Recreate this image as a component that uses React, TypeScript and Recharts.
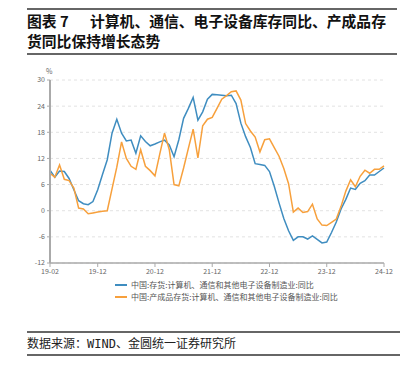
import { LineChart, Line, XAxis, YAxis, CartesianGrid } from "recharts";

// month labels 19-02 .. 24-12
const months: string[] = [];
for (let y = 19; y <= 24; y++) {
  for (let m = 1; m <= 12; m++) {
    if (y === 19 && m < 2) continue;
    months.push(`${y}-${String(m).padStart(2, "0")}`);
  }
}

const xTickLabels = ["19-02", "19-12", "20-12", "21-12", "22-12", "23-12", "24-12"];
const yTicks = [-12, -6, 0, 6, 12, 18, 24, 30];

// 中国:存货:计算机、通信和其他电子设备制造业:同比
const inventoryYoY = [
  9.3, 7.7, 9.1, 9.0, 7.4, 4.8, 2.3, 1.6, 1.4, 2.1, 4.8, 8.3,
  11.7, 17.8, 21.0, 17.8, 16.0, 16.2, 13.2, 17.2, 15.9, 14.9, 15.3, 15.8,
  16.2, 15.1, 12.4, 16.3, 21.2, 23.5, 26.0, 20.8, 22.7, 25.6, 26.7, 26.6,
  26.5, 26.4, 26.5, 24.6, 20.1, 17.0, 14.5, 10.8, 10.6, 10.4, 9.0, 5.6,
  1.8, -1.8, -4.6, -6.8, -6.0, -6.0, -6.5, -5.8, -6.6, -7.4, -7.2, -5.0,
  -2.6, 0.4, 2.6, 5.2, 4.9, 6.3, 6.9, 8.2, 8.2, 9.0, 9.8,
];

// 中国:产成品存货:计算机、通信和其他电子设备制造业:同比
const finishedGoodsYoY = [
  8.6, 7.7, 10.5, 7.2, 6.9, 5.2, 0.6, 0.4, -0.7, -0.5, -0.3, -0.1,
  0.0, 5.0, 10.0, 15.8, 12.0, 10.2, 9.5, 14.0, 10.2, 9.2, 8.0, 13.0,
  17.8, 14.0, 6.0, 5.7, 9.8, 14.3, 18.7, 12.1, 19.5, 21.0, 21.4, 23.5,
  25.6, 26.4, 27.3, 27.5, 25.4, 20.0, 18.3, 16.9, 13.5, 16.3, 16.5, 14.5,
  12.5, 9.7, 6.2, -0.3, 0.6, -0.4, -0.2, 1.5, -1.9, -3.3, -3.4, -2.7,
  -1.9, 1.0, 4.5, 7.1, 5.5, 7.9, 9.3, 8.6, 9.5, 9.5, 10.3,
];

const SERIES = [
  { key: "inv", name: "中国:存货:计算机、通信和其他电子设备制造业:同比", color: "#3f8dc0" },
  { key: "fg", name: "中国:产成品存货:计算机、通信和其他电子设备制造业:同比", color: "#f7a03c" },
];

const data = months.map((m, i) => ({
  idx: i,
  month: m,
  inv: inventoryYoY[i],
  fg: finishedGoodsYoY[i],
}));

const xTicks = xTickLabels.map((l) => months.indexOf(l));

const rule = (top: number, left: number, width: number) => (
  <div style={{ position: "absolute", top, left, width, height: 1.5, background: "#666" }} />
);

const titleStyle = {
  position: "absolute" as const,
  fontSize: 14.8,
  fontWeight: 700,
  lineHeight: "20px",
  color: "#111",
  whiteSpace: "nowrap" as const,
};

export default function App() {
  return (
    <div
      style={{
        position: "absolute",
        left: 0,
        top: 0,
        width: 405,
        height: 367,
        background: "#fff",
        fontFamily: "'Noto Sans CJK SC', 'Noto Sans', sans-serif",
        overflow: "hidden",
      }}
    >
      {rule(8, 27, 370)}
      <div style={{ ...titleStyle, left: 27, top: 11 }}>图表 7</div>
      <div style={{ ...titleStyle, left: 90, top: 11 }}>计算机、通信、电子设备库存同比、产成品存</div>
      <div style={{ ...titleStyle, left: 27, top: 31 }}>货同比保持增长态势</div>
      {rule(53, 27, 370)}

      <div style={{ position: "absolute", left: 46, top: 66, fontSize: 7, color: "#666" }}>%</div>

      <div style={{ position: "absolute", left: 0, top: 60 }}>
        <LineChart width={405} height={223} data={data} margin={{ top: 20, right: 21, bottom: 0, left: 0 }}>
          <CartesianGrid vertical={false} stroke="#e2e2e2" strokeDasharray="3 3" />
          <XAxis
            dataKey="idx"
            type="number"
            domain={[0, months.length - 1]}
            ticks={xTicks}
            tickFormatter={(v) => months[v]}
            interval={0}
            height={20}
            tick={{ fontSize: 7, fill: "#666" }}
            tickSize={4}
            axisLine={{ stroke: "#aaa", strokeWidth: 1.5 }}
            tickLine={{ stroke: "#aaa" }}
          />
          <YAxis
            domain={[-12, 30]}
            ticks={yTicks}
            interval={0}
            width={50}
            tick={{ fontSize: 7, fill: "#666" }}
            tickSize={3}
            axisLine={{ stroke: "#aaa", strokeWidth: 2 }}
            tickLine={{ stroke: "#aaa" }}
          />
          {SERIES.map((s) => (
            <Line
              key={s.key}
              type="linear"
              dataKey={s.key}
              name={s.name}
              stroke={s.color}
              strokeWidth={1.5}
              dot={false}
              isAnimationActive={false}
            />
          ))}
        </LineChart>
      </div>

      <div style={{ position: "absolute", left: 115, top: 279, fontSize: 8, color: "#555", lineHeight: "12px" }}>
        {SERIES.map((s) => (
          <div key={s.key} style={{ display: "flex", alignItems: "center" }}>
            <span style={{ display: "inline-block", width: 12, height: 2, background: s.color, marginRight: 4 }} />
            <span>{s.name}</span>
          </div>
        ))}
      </div>

      {rule(331, 27, 373)}
      <div
        style={{
          position: "absolute",
          left: 27,
          top: 334,
          fontSize: 12,
          color: "#222",
          fontFamily: "'DejaVu Sans Mono', 'Noto Sans CJK SC', monospace",
        }}
      >
        数据来源：WIND、金圆统一证券研究所
      </div>
      {rule(354, 27, 373)}
    </div>
  );
}
